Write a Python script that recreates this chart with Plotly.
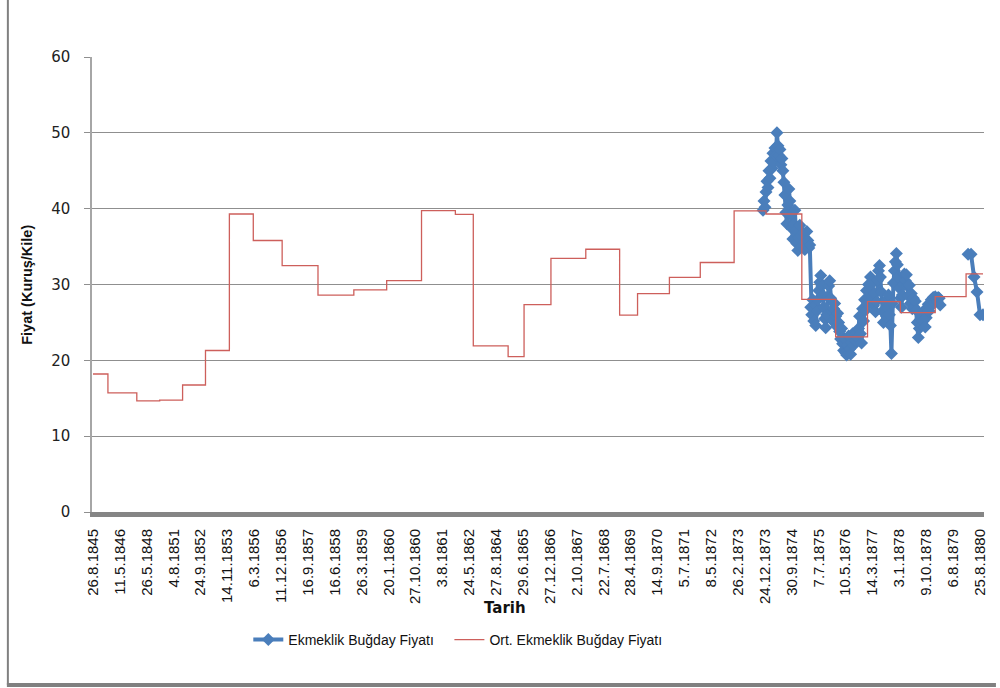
import plotly.graph_objects as go

# ---------------- data ----------------
tick_pos = [0, 27, 54, 81, 108, 135, 162, 189, 216, 243, 270, 297, 324, 351, 378, 405, 432,
            459, 486, 513, 540, 567, 594, 621, 648, 675, 702, 729, 756, 783, 810, 837, 864, 891]
tick_labels = ["26.8.1845", "11.5.1846", "26.5.1848", "4.8.1851", "24.9.1852", "14.11.1853",
               "6.3.1856", "11.12.1856", "16.9.1857", "16.6.1858", "26.3.1859", "20.1.1860",
               "27.10.1860", "3.8.1861", "24.5.1862", "27.8.1864", "29.6.1865", "27.12.1866",
               "2.10.1867", "22.7.1868", "28.4.1869", "14.9.1870", "5.7.1871", "8.5.1872",
               "26.2.1873", "24.12.1873", "30.9.1874", "7.7.1875", "10.5.1876", "14.3.1877",
               "3.1.1878", "9.10.1878", "6.8.1879", "25.8.1880"]

# Ort. Ekmeklik Buğday Fiyatı (step series: position where each level begins)
avg_start = [0, 15, 44, 67, 90, 113, 137, 161, 190, 226, 262, 295, 330, 364, 382, 417, 433,
             460, 495, 529, 547, 579, 610, 644, 676, 712, 746, 778, 811, 846, 877, 894]
avg_value = [18.2, 15.7, 14.65, 14.75, 16.75, 21.3, 39.3, 35.8, 32.5, 28.6, 29.3, 30.5, 39.75,
             39.25, 21.9, 20.5, 27.35, 33.45, 34.65, 25.95, 28.8, 30.95, 32.9, 39.7, 39.3, 28.05,
             23.1, 27.75, 26.3, 28.4, 31.4, 31.4]

# Ekmeklik Buğday Fiyatı
price_x = [673, 674, 675, 676, 677, 678, 679, 680, 681, 682, 683, 684, 685, 686, 687, 688,
           689, 690, 691, 692, 693, 694, 695, 696, 697, 698, 699, 700, 701, 702, 703, 704,
           705, 706, 707, 708, 709, 710, 711, 712, 713, 714, 715, 716, 717, 718, 719, 720,
           721, 722, 723, 724, 725, 726, 727, 728, 729, 730, 731, 732, 733, 734, 735, 736,
           737, 738, 739, 740, 741, 742, 743, 744, 745, 746, 747, 748, 749, 750, 751, 752,
           753, 754, 755, 756, 757, 758, 759, 760, 761, 762, 763, 764, 765, 766, 767, 768,
           769, 770, 771, 772, 773, 774, 775, 776, 777,
           778, 779, 780, 781, 782, 783, 784, 785, 786, 787, 788, 789, 790, 791, 792, 793,
           794, 795, 796, 797, 798, 799, 800, 801, 802, 803, 804, 805, 806, 807, 808, 809,
           810, 811, 812, 813, 814, 815, 816, 817, 818, 819, 820, 821, 822, 823, 824, 825,
           826, 827, 828, 829, 830, 831, 832, 833, 834, 835, 836, 837, 838, 839, 840, 841,
           842, 843, 844, 845, 846, 847, 848, 849, 850, 851,
           None,
           879, 882, 885, 888, 891, 894]
price_y = [39.8, 41.0, 40.2, 42.2, 43.6, 42.8, 45.0, 44.0, 46.3, 45.3, 47.3, 46.2, 48.0, 47.0,
           50.0, 48.3, 47.0, 47.8, 45.8, 46.6, 45.0, 43.5, 41.8, 39.5, 38.0, 40.5, 42.6, 41.0,
           39.2, 37.4, 36.0, 38.0, 39.8, 37.2, 35.4, 34.5, 36.2, 37.8, 36.4, 35.0, 36.8, 35.6,
           34.6, 36.0, 37.0, 35.8, 34.8, 35.2,
           27.0, 26.0, 28.0, 25.2, 27.3, 24.6, 26.5, 28.0, 29.2, 30.3, 31.2, 29.8, 28.6, 27.0,
           25.5, 24.3, 26.0, 28.4, 29.8, 30.5, 28.2, 26.5, 25.2, 26.8, 27.5, 25.8, 24.5, 26.2,
           25.0, 23.8, 22.8, 24.2, 22.2, 21.3, 22.8, 21.0, 20.7, 22.0, 23.2, 21.5, 20.8, 22.4,
           23.5, 22.0, 23.6, 22.6, 23.6, 23.0, 24.2, 25.8, 23.5, 22.3, 26.8, 25.2, 28.0, 26.6,
           29.2,
           27.5, 30.0, 29.0, 31.0, 28.5, 30.2, 27.2, 28.8, 26.4, 27.8, 30.5, 31.8, 32.5, 31.0,
           29.0, 26.5, 25.0, 26.2, 27.8, 25.8, 27.0, 28.6, 26.0, 24.6, 20.9, 27.5, 30.2, 31.8,
           33.0, 34.1, 32.6, 31.0, 29.5, 28.2, 27.0, 28.6, 30.0, 31.4, 30.5, 31.3, 29.8, 28.5,
           29.9, 27.5, 28.8, 26.8, 28.2, 27.0, 27.8, 26.6, 25.0, 23.0, 24.2, 25.4, 24.6, 26.0,
           25.2, 26.6, 24.4, 25.6, 26.8, 27.4, 26.5, 27.2, 28.0, 27.4, 28.3, 27.6, 28.4, 28.0,
           27.8, 28.3, 28.2, 27.3,
           None,
           34.0, 34.0, 31.0, 29.0, 26.0, 26.0]

y_ticks = [0, 10, 20, 30, 40, 50, 60]

# ---------------- figure ----------------
BLUE = "#4A7EBB"
RED = "#CD5F5B"

fig = go.Figure()
fig.add_trace(go.Scatter(
    x=price_x, y=price_y, mode="lines+markers", name="Ekmeklik Buğday Fiyatı",
    line=dict(color=BLUE, width=4),
    marker=dict(symbol="diamond", size=10, color=BLUE, line=dict(width=0)),
    connectgaps=False, legend="legend",
))
fig.add_trace(go.Scatter(
    x=avg_start, y=avg_value, mode="lines", name="Ort. Ekmeklik Buğday Fiyatı",
    line=dict(color=RED, width=1.3, shape="hv"), legend="legend2",
))

L, R, T, B = 92, 12, 57, 176
W, H = 1000, 688
pw, ph = W - L - R, H - T - B


def px_x(px):
    return (px - L) / pw


def px_y(py):
    return (H - B - py) / ph


legend_font = dict(family="Liberation Sans", size=14, color="#111111")

fig.update_layout(
    width=W, height=H,
    margin=dict(l=L, r=R, t=T, b=B, pad=0),
    paper_bgcolor="white", plot_bgcolor="white",
    showlegend=True,
    legend=dict(orientation="h", x=px_x(249), xanchor="left", y=px_y(640), yanchor="middle",
                font=legend_font, bgcolor="rgba(0,0,0,0)"),
    legend2=dict(orientation="h", x=px_x(451), xanchor="left", y=px_y(640), yanchor="middle",
                 font=legend_font, bgcolor="rgba(0,0,0,0)"),
    xaxis=dict(
        range=[-1, 895], tickmode="array", tickvals=tick_pos, ticktext=tick_labels,
        tickangle=-90, showgrid=False, zeroline=False, ticks="",
        showline=True, linecolor="#858585", linewidth=5,
        tickfont=dict(family="Liberation Sans", size=15, color="#111111"),
        ticklabelstandoff=6,
    ),
    yaxis=dict(
        range=[0, 60], tickmode="array", tickvals=y_ticks,
        showgrid=True, gridcolor="#8f8f8f", gridwidth=1, zeroline=False,
        showline=True, linecolor="#a6a6a6", linewidth=1.5,
        ticks="outside", ticklen=6, tickcolor="#8f8f8f",
        tickfont=dict(family="DejaVu Sans", size=15, color="#222222"),
        ticklabelstandoff=11,
    ),
    annotations=[
        dict(text="<b>Fiyat (Kuruş/Kile)</b>", xref="paper", yref="paper",
             x=px_x(26), y=0.5, textangle=-90, showarrow=False,
             xanchor="center", yanchor="middle",
             font=dict(family="Liberation Sans", size=14.5, color="#111111")),
        dict(text="<b>Tarih</b>", xref="paper", yref="paper",
             x=px_x(507), y=px_y(608), showarrow=False,
             xanchor="center", yanchor="middle",
             font=dict(family="DejaVu Sans", size=15, color="#111111")),
    ],
    shapes=[
        dict(type="line", xref="paper", yref="paper",
             x0=px_x(7.5), x1=px_x(7.5), y0=px_y(0), y1=px_y(685),
             line=dict(color="#808080", width=2)),
        dict(type="line", xref="paper", yref="paper",
             x0=px_x(6.5), x1=px_x(1000), y0=px_y(685), y1=px_y(685),
             line=dict(color="#808080", width=4)),
    ],
)

fig.write_html("out.html",
               config={"displayModeBar": False},
               post_script="document.body.style.margin='0';document.body.style.overflow='hidden';")
